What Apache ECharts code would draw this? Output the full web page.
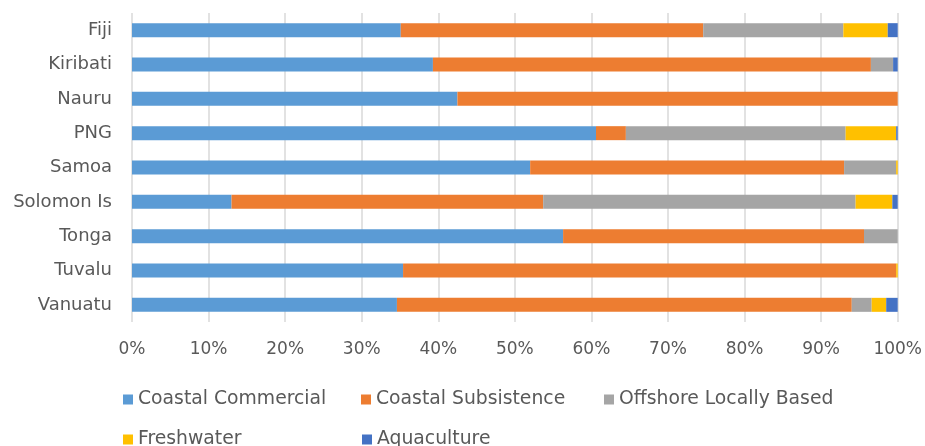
<!DOCTYPE html>
<html>
<head>
<meta charset="utf-8">
<script src="https://cdn.jsdelivr.net/npm/echarts@6/dist/echarts.min.js"></script>
<style>
  html, body { margin: 0; padding: 0; background: #fff; }
  #chart { width: 925px; height: 446px; }
</style>
</head>
<body>
<div id="chart"></div>
<script>
// Share of fisheries production by sector (percent of total)
const countries = ['Fiji', 'Kiribati', 'Nauru', 'PNG', 'Samoa', 'Solomon Is', 'Tonga', 'Tuvalu', 'Vanuatu'];
const coastalCommercial  = [35.1, 39.3, 42.5, 60.6, 52.0, 13.0, 56.3, 35.4, 34.6];
const coastalSubsistence = [39.5, 57.2, 57.5,  3.9, 41.0, 40.7, 39.3, 64.4, 59.4];
const offshoreLocal      = [18.3,  2.9,  0.0, 28.7,  6.8, 40.8,  4.4,  0.0,  2.6];
const freshwater         = [ 5.8,  0.0,  0.0,  6.6,  0.2,  4.8,  0.0,  0.2,  1.9];
const aquaculture        = [ 1.3,  0.6,  0.0,  0.2,  0.0,  0.7,  0.0,  0.0,  1.5];
const xTicks = [0, 10, 20, 30, 40, 50, 60, 70, 80, 90, 100];

const seriesDefs = [
  { name: 'Coastal Commercial',     data: coastalCommercial,  color: '#5B9BD5' },
  { name: 'Coastal Subsistence',    data: coastalSubsistence, color: '#ED7D31' },
  { name: 'Offshore Locally Based', data: offshoreLocal,      color: '#A5A5A5' },
  { name: 'Freshwater',             data: freshwater,         color: '#FFC000' },
  { name: 'Aquaculture',            data: aquaculture,        color: '#4472C4' }
];

const FONT = '"DejaVu Sans", sans-serif';
const TXT = '#595959';

// Legend laid out as a two-row grid: one legend component per entry
const legendSlots = [
  { left: 123, top: 390 },
  { left: 361, top: 390 },
  { left: 604, top: 390 },
  { left: 123, top: 430 },
  { left: 362, top: 430 }
];
const legends = seriesDefs.map((s, i) => ({
  orient: 'horizontal',
  left: legendSlots[i].left,
  top: legendSlots[i].top,
  padding: 0,
  itemWidth: 10,
  itemHeight: 10,
  itemGap: 0,
  icon: 'rect',
  data: [s.name],
  textStyle: { fontFamily: FONT, fontSize: 18.8, color: TXT, padding: [0, 0, 0, 0] }
}));

const chart = echarts.init(document.getElementById('chart'), null, { renderer: 'canvas' });
chart.setOption({
  animation: false,
  backgroundColor: '#fff',
  grid: { left: 132, right: 23.7, top: 13, bottom: 124, containLabel: false },
  xAxis: {
    type: 'value',
    min: xTicks[0],
    max: xTicks[xTicks.length - 1],
    interval: 10,
    axisLine: { show: false },
    axisTick: { show: false },
    splitLine: { show: true, lineStyle: { color: '#D9D9D9', width: 1.5 } },
    axisLabel: {
      margin: 19,
      fontFamily: FONT, fontSize: 17, color: TXT,
      formatter: v => v + '%'
    }
  },
  yAxis: {
    type: 'category',
    inverse: true,
    data: countries,
    axisLine: { show: false },
    axisTick: { show: false },
    axisLabel: { margin: 20, fontFamily: FONT, fontSize: 18, color: TXT }
  },
  legend: legends,
  series: seriesDefs.map(s => ({
    name: s.name,
    type: 'bar',
    stack: 'total',
    barWidth: 14,
    itemStyle: { color: s.color },
    data: s.data
  }))
});
</script>
</body>
</html>
